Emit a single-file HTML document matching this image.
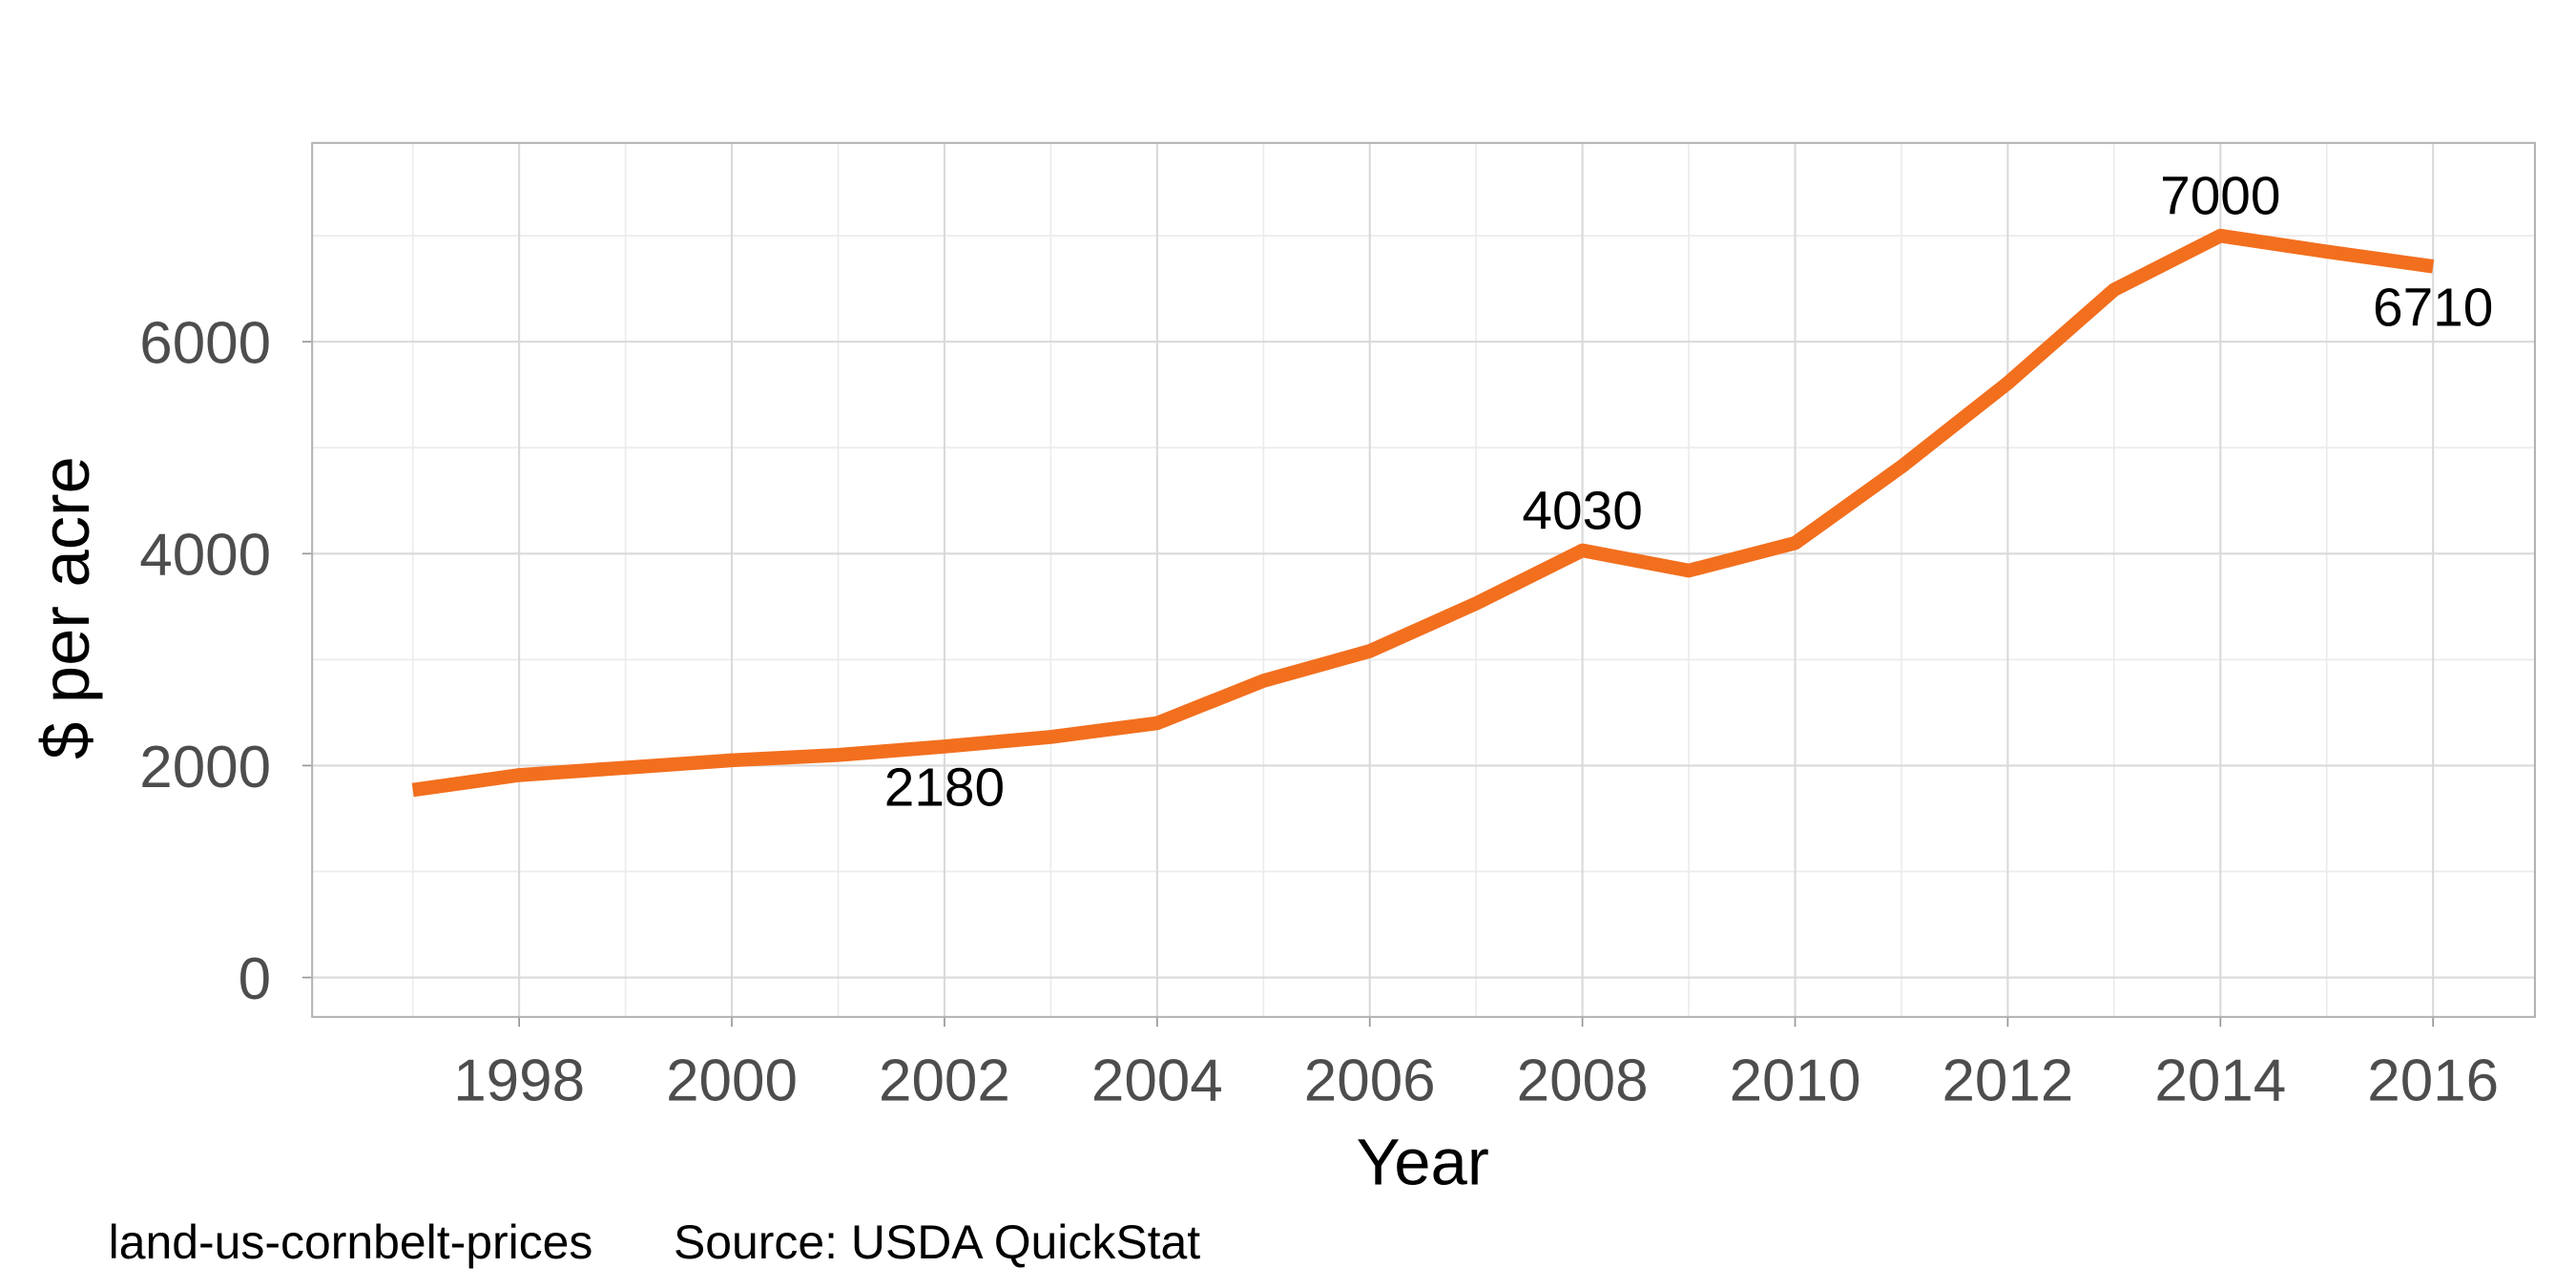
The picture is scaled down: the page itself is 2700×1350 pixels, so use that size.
<!DOCTYPE html>
<html><head><meta charset="utf-8"><style>
html,body{margin:0;padding:0;background:#fff}
svg{display:block}
text{font-family:"Liberation Sans",sans-serif}
</style></head><body>
<svg id="chart" width="2700" height="1350" viewBox="0 0 1568 784" xmlns="http://www.w3.org/2000/svg">
<g id="grid"></g>
<g id="axes"></g>
<g id="series"></g>
<g id="labels"></g>
<text x="-370" y="54" transform="rotate(-90)" text-anchor="middle" font-size="41" fill="#000">$ per acre</text>
<text x="866" y="721" text-anchor="middle" font-size="40" fill="#000">Year</text>
<text x="66" y="766" font-size="29" fill="#000">land-us-cornbelt-prices</text>
<text x="410" y="766" font-size="29" fill="#000">Source: USDA QuickStat</text>
</svg>
<script>
const years = [1997,1998,1999,2000,2001,2002,2003,2004,2005,2006,2007,2008,2009,2010,2011,2012,2013,2014,2015,2016];
const prices = [1770,1910,1980,2050,2100,2180,2270,2400,2800,3080,3530,4030,3840,4100,4820,5610,6490,7000,6850,6710];
const xTicks = [1998,2000,2002,2004,2006,2008,2010,2012,2014,2016];
const yTicks = [0,2000,4000,6000];
const yMinor = [1000,3000,5000,7000];
const labelYears = [2002,2008,2014,2016];
const labelText = ["2180","4030","7000","6710"];
const labelPos = ["below","above","above","below"];

const NS="http://www.w3.org/2000/svg";
const L=190,R=1543,T=87,B=619;
const x=v=>316+(v-1998)*(1481-316)/18;
const y=v=>595-v*(129/2000);
function mk(tag,attrs,parent){const e=document.createElementNS(NS,tag);for(const k in attrs)e.setAttribute(k,attrs[k]);parent.appendChild(e);return e;}
const grid=document.getElementById('grid'),axes=document.getElementById('axes'),series=document.getElementById('series'),labels=document.getElementById('labels');
for(let yr=1997;yr<=2016;yr++){ if(xTicks.includes(yr))continue;
 const g=mk('line',{x1:x(yr),x2:x(yr),y1:T,y2:B,stroke:'#ececec','stroke-width':1},grid);
 
 }
yMinor.forEach(v=>{const g=mk('line',{x1:L,x2:R,y1:y(v),y2:y(v),stroke:'#ececec','stroke-width':1},grid);
 
 });
xTicks.forEach(v=>{const g=mk('line',{x1:x(v),x2:x(v),y1:T,y2:B,stroke:'#d9d9d9','stroke-width':1.2},grid);
 
 
 const t=mk('line',{x1:x(v),x2:x(v),y1:B,y2:B+6,stroke:'#999','stroke-width':1},axes);
 
 
 const tx=mk('text',{x:x(v),y:670,'text-anchor':'middle','font-size':36,fill:'#4d4d4d'},axes);tx.textContent=v;
 
 });
yTicks.forEach(v=>{const g=mk('line',{x1:L,x2:R,y1:y(v),y2:y(v),stroke:'#d9d9d9','stroke-width':1.2},grid);
 
 
 const t=mk('line',{x1:L-6,x2:L,y1:y(v),y2:y(v),stroke:'#999','stroke-width':1},axes);
 
 
 const tx=mk('text',{x:L-25,y:y(v)+13,'text-anchor':'end','font-size':36,fill:'#4d4d4d'},axes);tx.textContent=v;
 
 });
const frame=mk('rect',{x:L,y:T,width:R-L,height:B-T,fill:'none',stroke:'#b3b3b3','stroke-width':1.2},axes);


const line=mk('polyline',{points:years.map((yr,i)=>x(yr)+','+y(prices[i])).join(' '),fill:'none',stroke:'#f26f1e','stroke-width':8.5,'stroke-linejoin':'round'},series);


labelYears.forEach((yr,i)=>{const v=prices[years.indexOf(yr)];
 const yy=labelPos[i]==='above'?y(v)-13:y(v)+36;
 const t=mk('text',{x:x(yr),y:yy,'text-anchor':'middle','font-size':33,fill:'#000'},labels);t.textContent=labelText[i];
 
 });
</script>
</body></html>
